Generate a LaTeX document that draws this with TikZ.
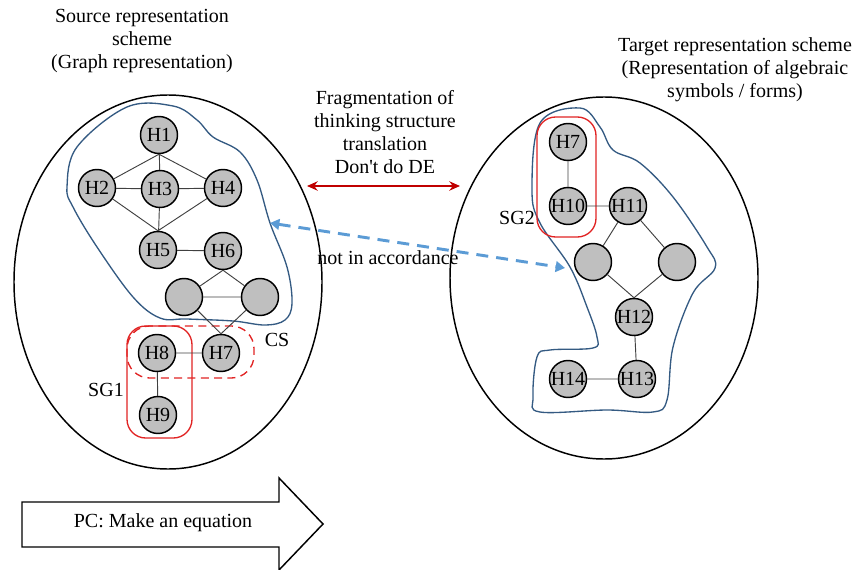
\documentclass[tikz,border=0pt]{standalone}
\usepackage{fontspec}
\setmainfont{Liberation Serif}
\usetikzlibrary{arrows.meta,positioning}
\definecolor{csblue}{RGB}{52,90,130}
\definecolor{sgred}{RGB}{225,35,35}
\definecolor{arrred}{RGB}{192,0,0}
\definecolor{dashblue}{RGB}{91,155,213}
\tikzset{
    hnode/.style={circle,draw,line width=1.1pt,fill=gray!50,minimum size=27.75pt,inner sep=0pt},
    link/.style={draw=black!75,line width=0.7pt},
    txt/.style={align=center,inner sep=0pt},
    region/.style={draw,line width=1.1pt},
}
\begin{document}
\begin{tikzpicture}[x=0.75pt,y=-0.75pt,font=\fontsize{15}{17.25}\selectfont]
    \useasboundingbox (0,0) rectangle (855,570);
    % the two schemes
    \draw[region] (168,282) ellipse [x radius=154,y radius=187];
    \draw[region] (604,278) ellipse [x radius=154,y radius=181];
    \node[txt] (src) at (142,41.5) {Source representation\\scheme\\(Graph representation)};
    \node[txt] (tgt) at (735,69.5) {Target representation scheme\\(Representation of algebraic\\symbols / forms)};
    \node[txt] (frag) at (385,132.5) {Fragmentation of\\thinking structure\\translation\\Don\textquotesingle t do DE};
    % contours
    \draw[csblue,line width=1pt] plot[smooth cycle,tension=0.6] coordinates {
        (127,107) (173,106) (197,120) (213,137) (240,152) (257,180) (270,223)
        (287,267) (292,303) (285,320) (265,325) (233,321) (187,319) (160,318)
        (133,297) (97,247) (73,207) (67,187) (77,147)};
    \draw[csblue,line width=1pt] plot[smooth cycle,tension=0.6] coordinates {
        (540,123) (580,108) (600,127) (613,150) (640,163) (673,197) (707,247)
        (715,268) (693,293) (673,347) (667,400) (653,412) (607,410) (540,412)
        (533,397) (537,357) (550,350) (593,348) (597,337) (587,307) (570,267)
        (540,223) (532,190)};
    \draw[sgred,line width=1pt,dash pattern=on 6pt off 4pt,rounded corners=17pt] (127,326) rectangle (254,378);
    \draw[sgred,line width=1pt,rounded corners=14pt] (127,326) rectangle (192,438);
    \draw[sgred,line width=1pt,rounded corners=14pt] (537,117) rectangle (596,237);
    \node (cs) at (277,340) {CS};
    \node (sg1) at (106,390) {SG1};
    \node (sg2) at (517,218) {SG2};
    % source graph
    \node[hnode] (h1) at (159,135) {H1};
    \node[hnode] (h2) at (97,188) {H2};
    \node[hnode] (h3) at (160,189) {H3};
    \node[hnode] (h4) at (223,188) {H4};
    \node[hnode] (h5) at (158,250) {H5};
    \node[hnode] (h6) at (223,251) {H6};
    \node[hnode] (ha) at (184,297) {};
    \node[hnode] (hb) at (260,297) {};
    \node[hnode] (h8) at (157,353) {H8};
    \node[hnode] (h7) at (221,353) {H7};
    \node[hnode] (h9) at (158,415) {H9};
    \draw[link] (h1.south) -- (h2) (h1.south) -- (h4) (h1) -- (h3)
        (h2) -- (h3) -- (h4)
        (h2) -- (h5.north) (h4) -- (h5.north) (h3) -- (h5)
        (h5) -- (h6) (h6.south) -- (ha) (h6.south) -- (hb) (ha) -- (hb)
        (ha) -- (h7.north) (hb) -- (h7.north) (h8) -- (h7) (h8) -- (h9);
    % target graph
    \node[hnode] (t7) at (568,142) {H7};
    \node[hnode] (t10) at (568,206) {H10};
    \node[hnode] (t11) at (628,206) {H11};
    \node[hnode] (tc) at (593,262) {};
    \node[hnode] (td) at (677,262) {};
    \node[hnode] (t12) at (634,317) {H12};
    \node[hnode] (t13) at (637,379) {H13};
    \node[hnode] (t14) at (568,379) {H14};
    \draw[link] (t7) -- (t10) (t10) -- (t11)
        (t11) -- (tc) (t11) -- (td) (tc) -- (t12.north) (td) -- (t12.north)
        (t12) -- (t13) (t14) -- (t13);
    % arrows between schemes
    \coordinate (fl) at (307,186);
    \coordinate (fr) at (460,186);
    \draw[arrred,line width=2pt,{Stealth[length=8pt,width=7pt]}-{Stealth[length=8pt,width=7pt]}] (fl) -- (fr);
    \coordinate (nl) at (270,223);
    \coordinate (nr) at (565,268);
    \draw[dashblue,line width=2.2pt,dash pattern=on 9pt off 6pt,{Triangle[length=7pt,width=8pt]}-{Triangle[length=7pt,width=8pt]}] (nl) -- (nr);
    \node[txt] (nacc) at (388,258) {not in accordance};
    % procedural arrow
    \draw[line width=1.1pt] (22,502) -- (279,502) -- (279,478) -- (323,524) -- (279,570) -- (279,547) -- (22,547) -- cycle;
    \node (pc) at (163,523) {PC: Make an equation};
\end{tikzpicture}
\end{document}
